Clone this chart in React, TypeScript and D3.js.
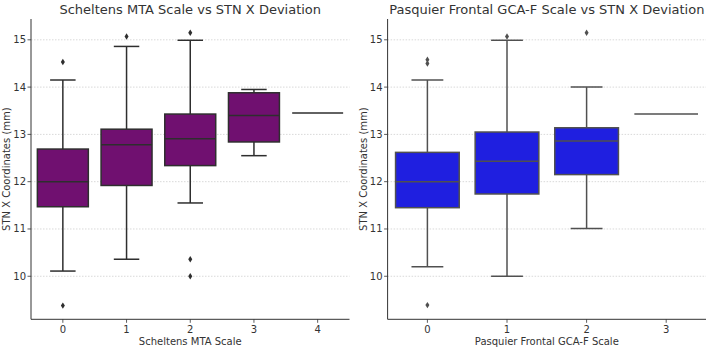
import React from "react";
import * as d3 from "d3";

// ---- Data (box statistics) ----
const mtaCategories = ["0", "1", "2", "3", "4"];
const mtaQ1 = [11.47, 11.92, 12.34, 12.84, 13.45];
const mtaMedian = [12.0, 12.78, 12.91, 13.4, 13.45];
const mtaQ3 = [12.69, 13.11, 13.43, 13.88, 13.45];
const mtaWhiskerLow = [10.11, 10.36, 11.55, 12.55, 13.45];
const mtaWhiskerHigh = [14.15, 14.86, 14.99, 13.95, 13.45];
const mtaOutliers = [[14.53, 9.38], [15.07], [15.15, 10.36, 10.0], [], []];

const gcaCategories = ["0", "1", "2", "3"];
const gcaQ1 = [11.45, 11.74, 12.15, 13.43];
const gcaMedian = [12.0, 12.43, 12.86, 13.43];
const gcaQ3 = [12.62, 13.05, 13.14, 13.43];
const gcaWhiskerLow = [10.2, 10.0, 11.01, 13.43];
const gcaWhiskerHigh = [14.15, 14.99, 14.0, 13.43];
const gcaOutliers = [[14.5, 14.58, 9.39], [15.07], [15.15], []];

const yTicks = [10, 11, 12, 13, 14, 15];
const yDomain = [9.09, 15.44];

const FONT = "DejaVu Sans, sans-serif";
const TEXT = "#333";

type PanelProps = {
  x0: number;
  x1: number;
  title: string;
  xLabel: string;
  yLabelX: number;
  categories: string[];
  q1: number[];
  med: number[];
  q3: number[];
  wLo: number[];
  wHi: number[];
  outliers: number[][];
  fill: string;
  line: string;
};

const TOP = 19;
const BOTTOM = 319.3;

function Panel(p: PanelProps) {
  const x = d3
    .scaleBand<string>()
    .domain(p.categories)
    .range([p.x0, p.x1])
    .paddingInner(0.2)
    .paddingOuter(0.1);
  const step = x.step();
  const y = d3.scaleLinear().domain(yDomain).range([BOTTOM, TOP]);
  const boxW = x.bandwidth();
  const cx = (c: string) => (x(c) as number) + boxW / 2;
  const midX = (p.x0 + p.x1) / 2;

  return (
    <g>
      {/* grid */}
      {yTicks.map((t) => (
        <line
          key={"g" + t}
          x1={p.x0}
          x2={p.x1}
          y1={y(t)}
          y2={y(t)}
          stroke="#cfcfcf"
          strokeWidth={0.8}
          strokeDasharray="1.5,1.5"
        />
      ))}
      {/* boxes */}
      {p.categories.map((c, i) => {
        const xc = cx(c);
        const single = p.q1[i] === p.q3[i];
        return (
          <g key={"b" + c}>
            {!single && (
              <>
                <line x1={xc} x2={xc} y1={y(p.q3[i])} y2={y(p.wHi[i])} stroke={p.line} strokeWidth={1.5} />
                <line x1={xc} x2={xc} y1={y(p.q1[i])} y2={y(p.wLo[i])} stroke={p.line} strokeWidth={1.5} />
                <line x1={xc - boxW / 4} x2={xc + boxW / 4} y1={y(p.wHi[i])} y2={y(p.wHi[i])} stroke={p.line} strokeWidth={1.5} />
                <line x1={xc - boxW / 4} x2={xc + boxW / 4} y1={y(p.wLo[i])} y2={y(p.wLo[i])} stroke={p.line} strokeWidth={1.5} />
                <rect
                  x={xc - boxW / 2}
                  y={y(p.q3[i])}
                  width={boxW}
                  height={y(p.q1[i]) - y(p.q3[i])}
                  fill={p.fill}
                  stroke={p.line}
                  strokeWidth={1.5}
                />
              </>
            )}
            <line
              x1={xc - boxW / 2}
              x2={xc + boxW / 2}
              y1={y(p.med[i])}
              y2={y(p.med[i])}
              stroke={p.line}
              strokeWidth={1.5}
            />
            {p.outliers[i].map((o, j) => {
              const yy = y(o);
              return (
                <path
                  key={j}
                  d={`M${xc},${yy - 3.2}L${xc + 2},${yy}L${xc},${yy + 3.2}L${xc - 2},${yy}Z`}
                  fill={p.line}
                />
              );
            })}
          </g>
        );
      })}
      {/* spines */}
      <line x1={p.x0} x2={p.x0} y1={TOP} y2={BOTTOM} stroke="#333" strokeWidth={1} />
      <line x1={p.x0} x2={p.x1} y1={BOTTOM} y2={BOTTOM} stroke="#333" strokeWidth={1} />
      {/* y ticks */}
      {yTicks.map((t) => (
        <g key={"yt" + t}>
          <line x1={p.x0 - 3.5} x2={p.x0} y1={y(t)} y2={y(t)} stroke="#333" strokeWidth={0.8} />
          <text
            x={p.x0 - 5}
            y={y(t)}
            dy="0.35em"
            textAnchor="end"
            fontSize={10}
            fontFamily={FONT}
            fill={TEXT}
          >
            {t}
          </text>
        </g>
      ))}
      {/* x ticks */}
      {p.categories.map((c) => (
        <g key={"xt" + c}>
          <line x1={cx(c)} x2={cx(c)} y1={BOTTOM} y2={BOTTOM + 3.5} stroke="#333" strokeWidth={0.8} />
          <text x={cx(c)} y={BOTTOM + 14} textAnchor="middle" fontSize={10} fontFamily={FONT} fill={TEXT}>
            {c}
          </text>
        </g>
      ))}
      <text x={midX} y={BOTTOM + 25.5} textAnchor="middle" fontSize={10} fontFamily={FONT} fill={TEXT}>
        {p.xLabel}
      </text>
      <text
        transform={`translate(${p.yLabelX},${(TOP + BOTTOM) / 2}) rotate(-90)`}
        textAnchor="middle"
        dy="0.35em"
        fontSize={10}
        fontFamily={FONT}
        fill={TEXT}
      >
        STN X Coordinates (mm)
      </text>
      <text x={midX} y={14} textAnchor="middle" fontSize={13} fontFamily={FONT} fill={TEXT}>
        {p.title}
      </text>
      {/* keep step referenced */}
      <g data-step={step} />
    </g>
  );
}

export default function App() {
  return (
    <svg
      width={709}
      height={349}
      style={{ position: "absolute", left: 0, top: 0, background: "#fff" }}
    >
      <rect width={709} height={349} fill="#fff" />
      <Panel
        x0={31}
        x1={349.5}
        title="Scheltens MTA Scale vs STN X Deviation"
        xLabel="Scheltens MTA Scale"
        yLabelX={6}
        categories={mtaCategories}
        q1={mtaQ1}
        med={mtaMedian}
        q3={mtaQ3}
        wLo={mtaWhiskerLow}
        wHi={mtaWhiskerHigh}
        outliers={mtaOutliers}
        fill="#701070"
        line="#2e2e2e"
      />
      <Panel
        x0={387.6}
        x1={706}
        title="Pasquier Frontal GCA-F Scale vs STN X Deviation"
        xLabel="Pasquier Frontal GCA-F Scale"
        yLabelX={363}
        categories={gcaCategories}
        q1={gcaQ1}
        med={gcaMedian}
        q3={gcaQ3}
        wLo={gcaWhiskerLow}
        wHi={gcaWhiskerHigh}
        outliers={gcaOutliers}
        fill="#1f1fe0"
        line="#505050"
      />
    </svg>
  );
}
